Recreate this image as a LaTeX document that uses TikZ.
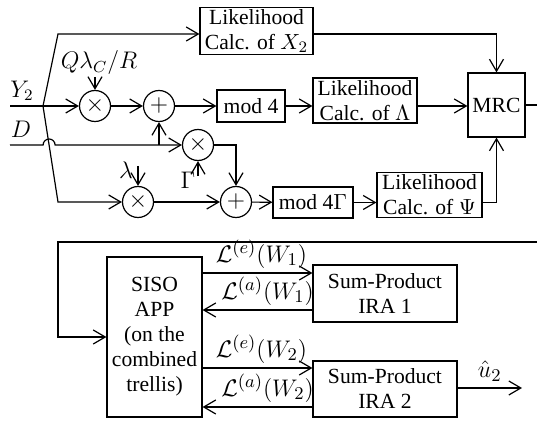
\documentclass[tikz,border=0pt]{standalone}
\usepackage{fontspec}
\setmainfont{Liberation Serif}
\usetikzlibrary{arrows.meta,positioning,calc}
\tikzset{
  blk/.style={draw,line width=0.6pt,align=center,inner sep=1pt,font=\fontsize{10.8}{12.5}\selectfont},
  opc/.style={draw,circle,line width=0.6pt,minimum size=15.5pt,inner sep=0pt,font=\large},
  arr/.style={-{Straight Barb[length=6pt,width=7pt]},line width=0.6pt},
  ln/.style={line width=0.6pt},
  lab/.style={font=\fontsize{11.5}{13}\selectfont,inner sep=1pt},
  llab/.style={font=\fontsize{12.5}{14}\selectfont,inner sep=1pt}
}

\begin{document}
\begin{tikzpicture}[x=0.5pt,y=-0.5pt]
\useasboundingbox (0,0) rectangle (537,422);
% ---------------- upper part: combining ----------------
\node[blk,minimum width=56.5pt,minimum height=23pt] (x2box) at (256.5,31) {Likelihood\\Calc. of $X_2$};
\node[blk,minimum width=34pt,minimum height=16pt] (mod4) at (251,106) {mod 4};
\node[blk,minimum width=52pt,minimum height=22.5pt] (lamb) at (365,100.5) {Likelihood\\Calc. of $\Lambda$};
\node[blk,minimum width=28.5pt,minimum height=32pt] (mrc) at (496.5,105) {MRC};
\node[blk,minimum width=40pt,minimum height=15.5pt] (mod4g) at (313,202.5) {mod 4$\Gamma$};
\node[blk,minimum width=52.5pt,minimum height=22pt] (psi) at (429.5,195) {Likelihood\\Calc. of $\Psi$};
\node[opc] (mul1) at (95,106) {$\times$};
\node[opc] (add1) at (159,106) {$+$};
\node[opc] (mul2) at (198,145) {$\times$};
\node[opc] (mul3) at (138,202) {$\times$};
\node[opc] (add2) at (236,202) {$+$};
% inputs
\node[lab] (y2lab) at (22,91) {$Y_2$};
\node[lab] (dlab) at (21,129) {$D$};
\coordinate (y2in) at (10,106);
\coordinate (din) at (10,145);
\coordinate (br) at (43,106);
\coordinate (top) at (58,34);
\coordinate (bot) at (58,202);
\coordinate (hop) at (intersection of br--bot and din--mul2);
\draw[ln] (y2in) -- (br);
\draw[arr] (br) -- (mul1);
\draw[arr] (br) -- (top) -- (top -| x2box.west);
\draw[arr] (br) -- (bot) -- (mul3);
\draw[arr] (din) -- ([xshift=-3pt]hop) arc[start angle=180,end angle=0,radius=3pt] -- (mul2);
\draw[arr] (add1 |- din) -- (add1);
% scaling factors
\node[lab] (qlab) at (99,63) {$Q\lambda_C/R$};
\draw[arr] ([yshift=6.5pt]mul1.north) -- (mul1.north);
\node[lab] (lamlab) at (126,170) {$\lambda$};
\draw[arr] ([yshift=10pt]mul3.north) -- (mul3.north);
\node[lab] (gamlab) at (188,180) {$\Gamma$};
\draw[arr] ([yshift=-7.5pt]mul2.south) -- (mul2.south);
% chains
\draw[arr] (mul1) -- (add1);
\draw[arr] (add1) -- (mod4);
\draw[arr] (mod4) -- (mod4 -| lamb.west);
\draw[arr] (lamb.east |- mod4) -- (mrc.west |- mod4);
\draw[arr] (mul2) -| (add2);
\draw[arr] (mul3) -- (add2);
\draw[arr] (add2) -- (mod4g);
\draw[arr] (mod4g) -- (mod4g -| psi.west);
\draw[arr] (psi.east |- mod4g) -| (mrc.south);
\draw[arr] (x2box.east |- top) -| (mrc.north);
% ---------------- lower part: decoding ----------------
\node[blk,minimum width=47.5pt,minimum height=80pt] (siso) at (154.5,337) {SISO\\APP\\(on the\\combined\\trellis)};
\node[blk,minimum width=72pt,minimum height=28.5pt] (ira1) at (385,293.5) {Sum-Product\\IRA 1};
\node[blk,minimum width=72pt,minimum height=28pt] (ira2) at (385,389) {Sum-Product\\IRA 2};
\coordinate (fbr) at (537,242);
\coordinate (fbl) at (58,242);
\coordinate (uout) at (522,388);
\draw[ln] (mrc.east) -- (mrc.east -| fbr);
\draw[arr] (fbr) -- (fbl) |- (siso);
\draw[arr] (siso.east |- 0,273) -- (ira1.west |- 0,273) node[llab,midway,above=1pt,xshift=2pt] {$\mathcal{L}^{(e)}(W_1)$};
\draw[arr] (ira1.west |- 0,310) -- (siso.east |- 0,310) node[llab,midway,above=1pt,xshift=5pt] {$\mathcal{L}^{(a)}(W_1)$};
\draw[arr] (siso.east |- 0,368) -- (ira2.west |- 0,368) node[llab,midway,above=1pt,xshift=2pt] {$\mathcal{L}^{(e)}(W_2)$};
\draw[arr] (ira2.west |- 0,407) -- (siso.east |- 0,407) node[llab,midway,above=1pt,xshift=5pt] {$\mathcal{L}^{(a)}(W_2)$};
\draw[arr] (ira2.east |- uout) -- (uout) node[llab,midway,above=2pt] {$\hat{u}_2$};
\end{tikzpicture}
\end{document}
